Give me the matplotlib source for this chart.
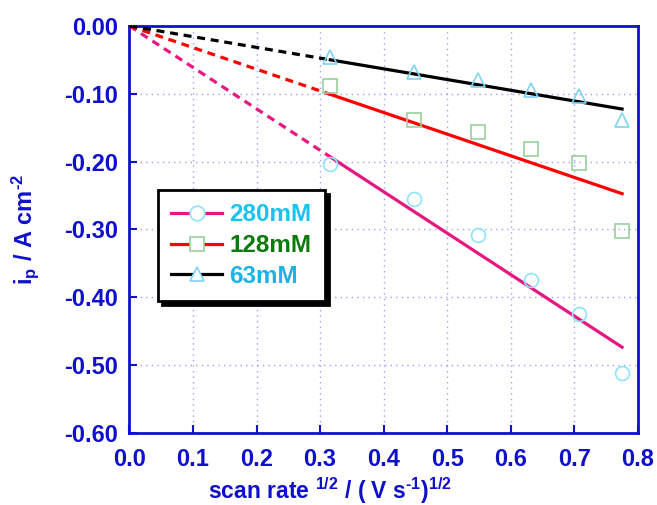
import matplotlib
matplotlib.use("Agg")
import matplotlib.pyplot as plt
import numpy as np
from matplotlib.lines import Line2D

plt.rcParams['font.family'] = ['Liberation Sans', 'DejaVu Sans']
plt.rcParams['font.weight'] = 'bold'
plt.rcParams['mathtext.fontset'] = 'custom'
plt.rcParams['mathtext.rm'] = 'Liberation Sans:bold'
plt.rcParams['mathtext.it'] = 'Liberation Sans:bold'
plt.rcParams['mathtext.bf'] = 'Liberation Sans:bold'
plt.rcParams['mathtext.default'] = 'rm'

# data
x = [0.316, 0.447, 0.548, 0.632, 0.707, 0.775]
i_280 = [-0.204, -0.255, -0.308, -0.374, -0.425, -0.512]
i_128 = [-0.089, -0.138, -0.157, -0.182, -0.202, -0.302]
i_63 = [-0.046, -0.068, -0.079, -0.095, -0.103, -0.139]
# fitted slopes of the lines
slope_280 = -0.611
slope_128 = -0.319
slope_63 = -0.158
labels = ["280mM", "128mM", "63mM"]
xticks = [0.0, 0.1, 0.2, 0.3, 0.4, 0.5, 0.6, 0.7, 0.8]
yticks = [-0.6, -0.5, -0.4, -0.3, -0.2, -0.1, 0.0]

blue = "#1010CC"
pink = "#E8177F"
series = [
    (i_280, slope_280, pink, 'o', "#8FE3FA", "#19C3F0"),
    (i_128, slope_128, "#FF0000", 's', "#9CCF9C", "#0A7A0A"),
    (i_63, slope_63, "#000000", '^', "#7FD3F3", "#19B3E8"),
]

fig = plt.figure(figsize=(6.57, 5.05), dpi=100)
ax = fig.add_axes([0.197, 0.1426, 0.774, 0.806])

handles = []
for vals, slope, lc, mk, mec, tc in series:
    xd = np.array([0.0, x[0]])
    xs = np.array([x[0], x[-1]])
    ax.plot(xd, slope * xd, color=lc, lw=2.3, ls=(0, (2.5, 1.8)), zorder=3)
    ax.plot(xs, slope * xs, color=lc, lw=2.3, zorder=3)
    ax.plot(x, vals, ls='none', marker=mk, ms=10, mfc='none', mec=mec, mew=1.2, zorder=4)
    handles.append(Line2D([], [], color=lc, lw=2.3, marker=mk, ms=10.5,
                          mfc='white', mec=mec, mew=1.2))

ax.set_xlim(0, 0.8)
ax.set_ylim(-0.6, 0.0)
ax.set_xticks(xticks)
ax.set_yticks(yticks)
ax.set_xticklabels([f"{v:.1f}" for v in xticks])
ax.set_yticklabels([f"{v:.2f}" if abs(v) > 1e-9 else "0.00" for v in yticks])
ax.grid(True, color="#A0A0F5", ls=(0, (1, 3)), lw=1.0)
ax.set_axisbelow(True)

for s in ax.spines.values():
    s.set_color(blue)
    s.set_linewidth(2)
ax.tick_params(direction='in', colors=blue, labelcolor=blue, labelsize=17,
               length=6, width=1.5, top=False, right=False)
ax.tick_params(axis='y', pad=8)
ax.tick_params(axis='x', pad=11)
for lab in ax.get_xticklabels() + ax.get_yticklabels():
    lab.set_fontweight('bold')

ax.set_xlabel(r"scan rate $^{1/2}$ / ( V s$^{\text{-1}}$)$^{1/2}$", color=blue,
              fontsize=16.5, fontweight='bold')
ax.xaxis.set_label_coords(0.394, -0.104)
ax.set_ylabel(r"i$_{\rm p}$ / A cm$^{\text{-2}}$", color=blue, fontsize=17, fontweight='bold')
ax.yaxis.set_label_coords(-0.174, 0.5)

leg = ax.legend(handles, labels, loc='upper left', bbox_to_anchor=(0.056, 0.597),
                fontsize=17.5, frameon=True, fancybox=False,
                shadow={'ox': 3, 'oy': -3, 'color': 'black', 'alpha': 1},
                handlelength=2.1, handletextpad=0.3, labelspacing=0.32,
                borderpad=0.55, borderaxespad=0)
leg.get_frame().set_edgecolor('black')
leg.get_frame().set_linewidth(2)
for t, (_, _, _, _, _, tc) in zip(leg.get_texts(), series):
    t.set_color(tc)
    t.set_fontweight('bold')

fig.savefig("out.png", dpi=100)
